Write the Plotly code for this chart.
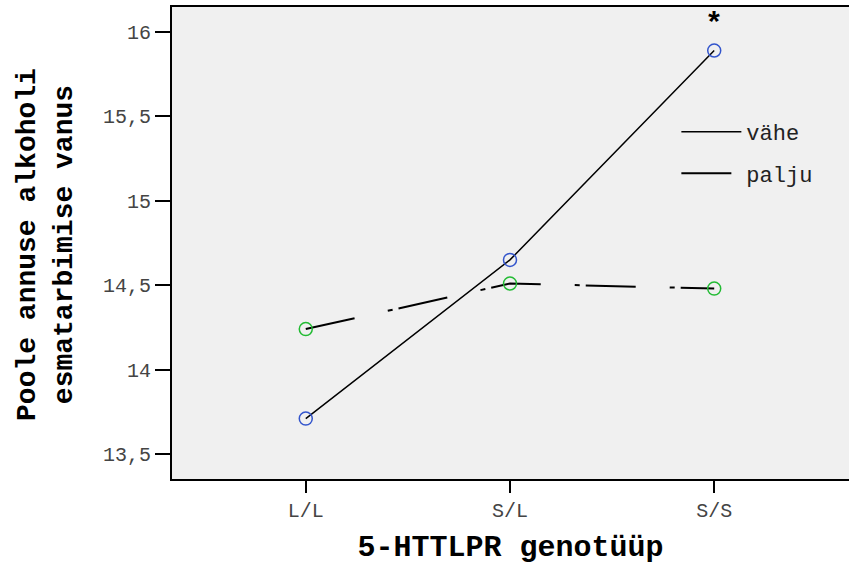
import plotly.graph_objects as go

categories = ["L/L", "S/L", "S/S"]
vahe = [13.71, 14.65, 15.89]
palju = [14.24, 14.51, 14.48]
y_tickvals = [13.5, 14, 14.5, 15, 15.5, 16]
y_ticktext = ["13,5", "14", "14,5", "15", "15,5", "16"]
x_pos = [0, 1, 2]

mono = "Liberation Mono, Courier New, monospace"
palju_dash = "50px,34px,5px,6px"

fig = go.Figure()
fig.add_trace(go.Scatter(
    x=x_pos, y=vahe, mode="lines", name="vähe", legendgroup="a",
    line=dict(color="black", width=1.5),
))
fig.add_trace(go.Scatter(
    x=x_pos, y=palju, mode="lines", name="palju", legendgroup="b",
    line=dict(color="black", width=2, dash=palju_dash),
))
fig.add_trace(go.Scatter(
    x=x_pos, y=vahe, mode="markers", showlegend=False, hoverinfo="skip",
    marker=dict(symbol="circle-open", size=13, color="#3355cc", line=dict(width=1.5)),
))
fig.add_trace(go.Scatter(
    x=x_pos, y=palju, mode="markers", showlegend=False, hoverinfo="skip",
    marker=dict(symbol="circle-open", size=13, color="#22bb33", line=dict(width=1.5)),
))

fig.add_annotation(x=x_pos[2], y=vahe[2], text="<b>*</b>", showarrow=False,
                   yshift=26, font=dict(family=mono, size=30, color="black"))

fig.add_annotation(xref="paper", yref="paper", x=-0.186, y=0.496,
                   text="<b>Poole annuse alkoholi<br>esmatarbimise vanus</b>",
                   textangle=-90, showarrow=False, xanchor="center", yanchor="middle",
                   font=dict(family=mono, size=28, color="black"))

fig.update_layout(
    width=849, height=565,
    margin=dict(l=172, r=0, t=7, b=86),
    paper_bgcolor="white", plot_bgcolor="#f0f0f0",
    showlegend=True,
    legend=dict(x=0.745, y=0.78, xanchor="left", yanchor="top",
                bgcolor="rgba(0,0,0,0)", font=dict(family=mono, size=22, color="#222"),
                itemwidth=60, traceorder="grouped", tracegroupgap=10),
    font=dict(family=mono),
)
fig.update_xaxes(
    range=[-0.655, 2.66], tickvals=x_pos, ticktext=categories,
    showgrid=False, zeroline=False,
    showline=True, linecolor="black", linewidth=2, mirror=True,
    ticks="outside", ticklen=12, tickwidth=2, tickcolor="black",
    tickfont=dict(family=mono, size=20, color="#444"),
    title=dict(text="<b>5-HTTLPR genotüüp</b>", font=dict(family=mono, size=30, color="black"), standoff=14),
)
fig.update_yaxes(
    range=[13.352, 16.148], tickvals=y_tickvals, ticktext=y_ticktext,
    showgrid=False, zeroline=False,
    showline=True, linecolor="black", linewidth=2, mirror=False,
    ticks="outside", ticklen=15, tickwidth=2, tickcolor="black",
    tickfont=dict(family=mono, size=20, color="#444"),
)

fig.write_html("out.html")
